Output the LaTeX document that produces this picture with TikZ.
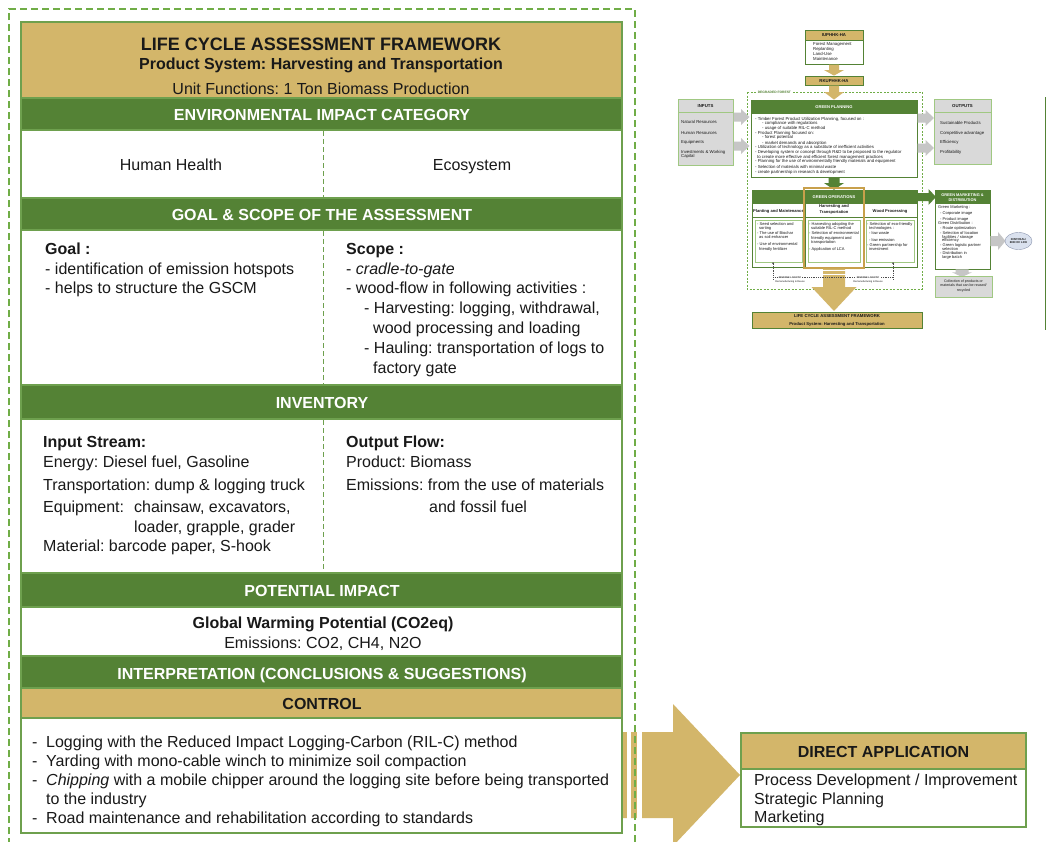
\documentclass[tikz,border=0pt]{standalone}
\usepackage{fontspec}
\setmainfont{Liberation Sans}
\usetikzlibrary{fit,arrows.meta,shapes.geometric}
\definecolor{gbar}{RGB}{84,130,53}
\definecolor{tanc}{RGB}{211,182,106}
\definecolor{tanline}{RGB}{200,160,75}
\definecolor{pbord}{RGB}{110,160,78}
\definecolor{odash}{RGB}{112,173,71}
\definecolor{txt}{RGB}{25,25,25}
\definecolor{lgray}{RGB}{217,217,217}
\definecolor{agray}{RGB}{198,198,198}
\definecolor{lgreen}{RGB}{160,200,130}
\definecolor{ellf}{RGB}{218,225,238}
\definecolor{elld}{RGB}{140,150,175}
\newcommand{\fsz}[1]{\fontsize{#1}{#1}\selectfont}
\newcommand{\vblock}[7]{\fill[#1] ({#2-#6},#3) -- ({#2+#6},#3) -- ({#2+#6},#4) -- ({#2+#7},#4) -- (#2,#5) -- ({#2-#7},#4) -- ({#2-#6},#4) -- cycle;}
\newcommand{\hblock}[7]{\fill[#1] (#3,{#2-#6}) -- (#4,{#2-#6}) -- (#4,{#2-#7}) -- (#5,#2) -- (#4,{#2+#7}) -- (#4,{#2+#6}) -- (#3,{#2+#6}) -- cycle;}
\frenchspacing
\begin{document}
\frenchspacing
\begin{tikzpicture}[x=1pt,y=-1pt,
 sec/.style={inner sep=0pt,outer sep=0pt,draw=pbord,line width=1.3pt},
 tansec/.style={sec,fill=tanc},
 grsec/.style={sec,fill=gbar},
 whsec/.style={sec,fill=white},
 bartxt/.style={font=\fsz{16}\bfseries,text=white,inner sep=0pt,anchor=base},
 cbold/.style={font=\fsz{16}\bfseries,text=txt,inner sep=0pt,anchor=base},
 creg/.style={font=\fsz{16},text=txt,inner sep=0pt,anchor=base},
 mtxt/.style={font=\fsz{16},text=txt,inner sep=0pt,anchor=base west},
 mbold/.style={font=\fsz{16}\bfseries,text=txt,inner sep=0pt,anchor=base west},
 divd/.style={draw=pbord,line width=1pt,dash pattern=on 5pt off 3pt},
 tb/.style={inner sep=0pt,outer sep=0pt,line width=0.5pt},
 ttxt/.style={font=\fsz{4.3},text=txt,inner sep=0pt,anchor=base west},
 tsm/.style={font=\fsz{4},text=txt,inner sep=0pt,anchor=base west},
 tsmc/.style={font=\fsz{3.6},text=txt,inner sep=0pt,anchor=base},
 tbold/.style={font=\fsz{4.3}\bfseries,text=txt,inner sep=0pt,anchor=base},
 twhite/.style={font=\fsz{4.1}\bfseries,text=white,inner sep=0pt,anchor=base},
 rlline/.style={draw=black!70,line width=0.35pt,dash pattern=on 1pt off 0.8pt},
]
\useasboundingbox (0,0) rectangle (1047,841);
\fill[white] (0,0) rectangle (1047,841);

% ---------- big arrow ----------
\fill[tanc] (620,732) -- (673,732) -- (673,704) -- (740,775) -- (673,846) -- (673,818) -- (620,818) -- cycle;
\fill[white] (626.7,730) rectangle (630.7,820);
\fill[white] (637.3,730) rectangle (641.7,820);

% ---------- outer dashed frame ----------
\coordinate (od1) at (9,845); \coordinate (od2) at (9,9);
\coordinate (od3) at (635,9); \coordinate (od4) at (635,845);
\draw[odash,line width=1.3pt,dash pattern=on 7pt off 4pt] (od1) -- (od2) -- (od3) -- (od4);

% ---------- sections ----------
\node[tansec,fit={(21,22) (622,98)}] (hdr) {};
\node[grsec,fit={(21,98) (622,130)}] (env) {};
\node[whsec,fit={(21,130) (622,198)}] (envw) {};
\node[grsec,fit={(21,198) (622,230)}] (gs) {};
\node[whsec,fit={(21,230) (622,385)}] (gsw) {};
\node[grsec,fit={(21,385) (622,419)}] (inv) {};
\node[whsec,fit={(21,419) (622,573)}] (invw) {};
\node[grsec,fit={(21,573) (622,607)}] (pot) {};
\node[whsec,fit={(21,607) (622,656)}] (potw) {};
\node[grsec,fit={(21,656) (622,688)}] (intp) {};
\node[tansec,fit={(21,688) (622,718)}] (ctl) {};
\node[whsec,fit={(21,718) (622,833)}] (ctlw) {};
\draw[pbord,line width=1.6pt] (hdr.north west) rectangle (ctlw.south east);

% dividers
\coordinate (dv1a) at (323,131); \coordinate (dv1b) at (323,197);
\coordinate (dv2a) at (323,231); \coordinate (dv2b) at (323,384);
\coordinate (dv3a) at (323,420); \coordinate (dv3b) at (323,572);
\draw[divd] (dv1a) -- (dv1b);
\draw[divd] (dv2a) -- (dv2b);
\draw[divd] (dv3a) -- (dv3b);

% header texts
\node[font=\fsz{18}\bfseries,text=txt,inner sep=0pt,anchor=base] (h1) at (321,50) {LIFE CYCLE ASSESSMENT FRAMEWORK};
\node[cbold] (h2) at (321,69.5) {Product System: Harvesting and Transportation};
\node[creg] (h3) at (321,94) {Unit Functions: 1 Ton Biomass Production};

\node[bartxt] (envt) at (322,120.5) {ENVIRONMENTAL IMPACT CATEGORY};
\node[creg] (hh) at (171,170.7) {Human Health};
\node[creg] (eco) at (472,170.7) {Ecosystem};

\node[bartxt] (gst) at (322,220.7) {GOAL \& SCOPE OF THE ASSESSMENT};
\node[mbold] (g0) at (45,254) {Goal :};
\node[mtxt] (g1) at (45,274) {- identification of emission hotspots};
\node[mtxt] (g2) at (45,293.8) {- helps to structure the GSCM};
\node[mbold] (s0) at (346,254) {Scope :};
\node[mtxt] (s1) at (346,274) {- \textit{cradle-to-gate}};
\node[mtxt] (s2) at (346,293.8) {- wood-flow in following activities :};
\node[mtxt] (s3) at (364,313.6) {- Harvesting: logging, withdrawal,};
\node[mtxt] (s4) at (373,333.4) {wood processing and loading};
\node[mtxt] (s5) at (364,353.2) {- Hauling: transportation of logs to};
\node[mtxt] (s6) at (373,373) {factory gate};

\node[bartxt] (invt) at (322,408.5) {INVENTORY};
\node[mbold] (i0) at (43,447.5) {Input Stream:};
\node[mtxt] (i1) at (43,467) {Energy: Diesel fuel, Gasoline};
\node[mtxt] (i2) at (43,490) {Transportation: dump \& logging truck};
\node[mtxt] (i3) at (43,512) {Equipment:};
\node[mtxt] (i3b) at (134,512) {chainsaw, excavators,};
\node[mtxt] (i4) at (134,532) {loader, grapple, grader};
\node[mtxt] (i5) at (43,551) {Material: barcode paper, S-hook};
\node[mbold] (o0) at (346,447.5) {Output Flow:};
\node[mtxt] (o1) at (346,467) {Product: Biomass};
\node[mtxt] (o2) at (346,490) {Emissions: from the use of materials};
\node[mtxt] (o3) at (429,512) {and fossil fuel};

\node[bartxt] (pott) at (322,596.5) {POTENTIAL IMPACT};
\node[cbold] (p1) at (323,628) {Global Warming Potential (CO2eq)};
\node[creg] (p2) at (323,648) {Emissions: CO2, CH4, N2O};

\node[bartxt] (intt) at (322,679) {INTERPRETATION (CONCLUSIONS \& SUGGESTIONS)};
\node[cbold] (ctlt) at (322,709) {CONTROL};

\node[mtxt] (cd1) at (32,747.5) {-};
\node[mtxt] (c1) at (46,747.5) {Logging with the Reduced Impact Logging-Carbon (RIL-C) method};
\node[mtxt] (cd2) at (32,766.5) {-};
\node[mtxt] (c2) at (46,766.5) {Yarding with mono-cable winch to minimize soil compaction};
\node[mtxt] (cd3) at (32,785) {-};
\node[mtxt] (c3) at (46,785) {\textit{Chipping} with a mobile chipper around the logging site before being transported};
\node[mtxt] (c4) at (46,804) {to the industry};
\node[mtxt] (cd5) at (32,823) {-};
\node[mtxt] (c5) at (46,823) {Road maintenance and rehabilitation according to standards};

% ---------- direct application ----------
\node[sec,fill=tanc,line width=1.5pt,fit={(741,733) (1026,769)}] (dah) {};
\node[sec,fill=white,line width=1.5pt,fit={(741,769) (1026,827)}] (dab) {};
\node[cbold] (dat) at (883.5,757.5) {DIRECT APPLICATION};
\node[mtxt] (da1) at (754,785) {Process Development / Improvement};
\node[mtxt] (da2) at (754,804) {Strategic Planning};
\node[mtxt] (da3) at (754,822.7) {Marketing};

% ================= thumbnail =================
% degraded forest frame
\draw[odash,line width=0.5pt,dash pattern=on 2pt off 1.5pt] (747,92) rectangle (922,289);
\node[font=\fsz{3.3}\bfseries,text=gbar,fill=white,inner sep=0.6pt,anchor=west] (dgf) at (757,92) {DEGRADED FOREST};

% IUPHHK-HA
\node[tb,fill=tanc,draw=gbar,fit={(805,30) (863,40)}] (iuh) {};
\node[tbold] (iuht) at (834,36.6) {IUPHHK-HA};
\node[tb,fill=white,draw=gbar,fit={(805,40) (863,64)}] (iub) {};
\node[ttxt] (iu1) at (813,45.3) {Forest Management};
\node[ttxt] (iu2) at (813,50.2) {Replanting};
\node[ttxt] (iu3) at (813,55.1) {Land-Use};
\node[ttxt] (iu4) at (813,60) {Maintenance};
\vblock{tanc}{834}{64.6}{70}{75.6}{5}{10}
\node[tb,fill=tanc,draw=gbar,fit={(805,76) (863,85)}] (rku) {};
\node[tbold] (rkut) at (834,82) {RKUPHHK-HA};
\vblock{tanc}{834}{85.6}{92}{99.6}{5}{10}

% INPUTS
\node[tb,fill=lgray,draw=lgreen,line width=0.7pt,fit={(678,99) (733,165)}] (inp) {};
\draw[lgreen,line width=0.5pt] ([yshift=-13pt]inp.north west) -- ([yshift=-13pt]inp.north east);
\node[tbold] (inpt) at (705.5,107.6) {INPUTS};
\node[ttxt] (in1) at (681,123.7) {Natural Resources};
\node[ttxt] (in2) at (681,134.1) {Human Resources};
\node[ttxt] (in3) at (681,143.7) {Equipments};
\node[ttxt] (in4) at (681,153.1) {Investments \& Working};
\node[ttxt] (in5) at (681,157.6) {Capital};
\hblock{agray}{117}{733.6}{741}{749.5}{4.5}{8}
\hblock{agray}{146}{733.6}{741}{749.5}{4.5}{8}

% GREEN PLANNING
\node[tb,fill=white,draw=gbar,line width=0.7pt,fit={(751,100) (917,177)}] (gp) {};
\node[tb,fill=gbar,draw=gbar,fit={(751,100) (917,113)}] (gph) {};
\node[twhite] (gpht) at (834,108.3) {GREEN PLANNING};
\node[ttxt] (gp1) at (755,120.3) {- Timber Forest Product Utilization Planning, focused on :};
\node[ttxt] (gp2) at (762,124.8) {- compliance with regulations};
\node[ttxt] (gp3) at (762,129.3) {- usage of suitable RIL-C method};
\node[ttxt] (gp4) at (755,134.3) {- Product Planning focused on:};
\node[ttxt] (gp5) at (762,138.8) {- forest potential};
\node[ttxt] (gp6) at (762,144.3) {- market demands and absorption};
\node[ttxt] (gp7) at (755,148.8) {- Utilization of technology as a substitute of inefficient activities};
\node[ttxt] (gp8) at (755,153.3) {- Developing system or concept through R\&D to be proposed to the regulator};
\node[ttxt] (gp9) at (757,158.3) {to create more effective and efficient forest management practices};
\node[ttxt] (gp10) at (755,162.8) {- Planning for the use of environmentally friendly materials and equipment};
\node[ttxt] (gp11) at (755,168.3) {- Selection of materials with minimal waste};
\node[ttxt] (gp12) at (755,173.8) {- create partnership in research \& development};

% OUTPUTS
\node[tb,fill=lgray,draw=lgreen,line width=0.7pt,fit={(934,99) (991,164)}] (outp) {};
\draw[lgreen,line width=0.5pt] ([yshift=-13pt]outp.north west) -- ([yshift=-13pt]outp.north east);
\node[tbold] (outt) at (962.5,107.6) {OUTPUTS};
\node[ttxt] (ou1) at (940,124.3) {Sustainable Products};
\node[ttxt] (ou2) at (940,134.3) {Competitive advantage};
\node[ttxt] (ou3) at (940,143.3) {Efficiency};
\node[ttxt] (ou4) at (940,153.3) {Profitability};
\hblock{agray}{118}{917.6}{925.5}{934}{4.5}{8}
\hblock{agray}{148}{917.6}{925.5}{934}{4.5}{8}

% right vertical line
\coordinate (vl1) at (1045,97); \coordinate (vl2) at (1045,330);
\draw[gbar,line width=1pt] (vl1) -- (vl2);

% green arrow GP -> GO
\vblock{gbar}{834}{177.4}{183}{189.8}{5.5}{10}

% GREEN OPERATIONS
\node[tb,fill=white,draw=gbar,line width=0.7pt,fit={(752,190) (917,267)}] (go) {};
\node[tb,fill=gbar,draw=gbar,fit={(752,190) (917,203)}] (goh) {};
\node[twhite] (goht) at (834,198.5) {GREEN OPERATIONS};
\draw[gbar,line width=0.5pt] (752,217) -- (917,217);
\draw[gbar,line width=0.5pt] (805,203) -- (805,267);
\draw[gbar,line width=0.5pt] (863,203) -- (863,267);
\node[font=\fsz{4.1}\bfseries,text=txt,inner sep=0pt,anchor=base] (go1t) at (778.5,212.3) {Planting and Maintenance};
\node[font=\fsz{4.1}\bfseries,text=txt,inner sep=0pt,anchor=base] (go2t) at (834,207.6) {Harvesting and};
\node[font=\fsz{4.1}\bfseries,text=txt,inner sep=0pt,anchor=base] (go2u) at (834,213.6) {Transportation};
\node[font=\fsz{4.1}\bfseries,text=txt,inner sep=0pt,anchor=base] (go3t) at (890,212.3) {Wood Processing};
\node[tb,draw=lgreen,line width=0.4pt,fit={(755,220) (802,262)}] (c1box) {};
\node[tb,draw=lgreen,line width=0.4pt,fit={(808,220) (860,262)}] (c2box) {};
\node[tb,draw=lgreen,line width=0.4pt,fit={(866,220) (914,262)}] (c3box) {};
\node[tsm] (a1) at (757,225.7) {- Seed selection and};
\node[tsm] (a2) at (759,229.7) {sorting};
\node[tsm] (a3) at (757,234.1) {- The use of Biochar};
\node[tsm] (a4) at (759,238.1) {as soil enhancer};
\node[tsm] (a5) at (757,245.4) {- Use of environmental};
\node[tsm] (a6) at (759,250.7) {friendly fertilizer};
\node[tsm] (b1) at (809,225.7) {- Harvesting adopting the};
\node[tsm] (b2) at (811,229.7) {suitable RIL-C method};
\node[tsm] (b3) at (809,234.7) {- Selection of environmental};
\node[tsm] (b4) at (811,239.1) {friendly equipment and};
\node[tsm] (b5) at (811,243.1) {transportation};
\node[tsm] (b6) at (809,250.7) {- Application of LCA};
\node[tsm] (e1) at (867,225.7) {- Selection of eco-friendly};
\node[tsm] (e2) at (869,229.7) {technologies :};
\node[tsm] (e3) at (869,234.7) {- low waste};
\node[tsm] (e4) at (869,241.4) {- low emission};
\node[tsm] (e5) at (867,246.4) {- Green partnership for};
\node[tsm] (e6) at (869,250.7) {investment};
\node[tb,draw=tanline,line width=1.1pt,fit={(804,188) (864,268)}] (hl) {};

% tan arrow down to LCA
\vblock{tanc}{834}{268.6}{287}{311}{11}{22.5}
\fill[white] (822,270.4) rectangle (846,271.4);
\fill[white] (822,273.6) rectangle (846,274.6);

% reverse logistics
\coordinate (rla) at (773,279.5); \coordinate (rlb) at (893,279.5);
\coordinate (rlm1) at (773,277.5); \coordinate (rlm2) at (893,277.5);
\draw[rlline] (rlm1) -- (rlm2);
\draw[rlline,-{Stealth[length=2pt,width=2pt]}] (rla) -- (rla |- c1box.south);
\draw[rlline,-{Stealth[length=2pt,width=2pt]}] (rlb) -- (rlb |- c3box.south);
\node[font=\fsz{2.3}\bfseries,text=txt,fill=white,inner sep=0.4pt,anchor=base] (rl1t) at (790,278.2) {REVERSE LOGISTIC};
\node[font=\fsz{2.5},text=txt,inner sep=0.3pt,anchor=base] (rl1s) at (790,282.4) {Remanufacturing \& Reuse};
\node[font=\fsz{2.3}\bfseries,text=txt,fill=white,inner sep=0.4pt,anchor=base] (rl2t) at (868,278.2) {REVERSE LOGISTIC};
\node[font=\fsz{2.5},text=txt,inner sep=0.3pt,anchor=base] (rl2s) at (868,282.4) {Remanufacturing \& Reuse};

% LCA box
\node[tb,fill=tanc,draw=gbar,fit={(752,312) (922,328)}] (lca) {};
\node[tbold] (lca1) at (837,317.6) {LIFE CYCLE ASSESSMENT FRAMEWORK};
\node[font=\fsz{4.2}\bfseries,text=txt,inner sep=0pt,anchor=base] (lca2) at (837,325.4) {Product System: Harvesting and Transportation};

% green arrow GO -> GMD
\hblock{gbar}{197}{917.4}{928.5}{936}{4}{8}

% GREEN MARKETING & DISTRIBUTION
\node[tb,fill=white,draw=gbar,line width=0.7pt,fit={(935,190) (990,269)}] (gmd) {};
\node[tb,fill=gbar,draw=gbar,fit={(935,190) (990,203)}] (gmdh) {};
\node[font=\fsz{3.9}\bfseries,text=white,inner sep=0pt,anchor=base] (gmdt1) at (962.5,196.4) {GREEN MARKETING \&};
\node[font=\fsz{3.9}\bfseries,text=white,inner sep=0pt,anchor=base] (gmdt2) at (962.5,201.6) {DISTRIBUTION};
\node[tsm] (m1) at (938,208.5) {Green Marketing :};
\node[tsm] (m2) at (940,214.6) {- Corporate image};
\node[tsm] (m3) at (940,220.6) {- Product image};
\node[tsm] (m4) at (938,224.6) {Green Distribution :};
\node[tsm] (m5) at (940,229.6) {- Route optimization};
\node[tsm] (m6) at (940,234.6) {- Selection of location};
\node[tsm] (m7) at (942,238.1) {facilities / storage};
\node[tsm] (m8) at (942,241.4) {efficiency};
\node[tsm] (m9) at (940,246.6) {- Green logistic partner};
\node[tsm] (m10) at (942,250.1) {selection};
\node[tsm] (m11) at (940,254.6) {- Distribution in};
\node[tsm] (m12) at (942,258.6) {large batch};

% disposal
\hblock{agray}{241}{990.4}{998}{1005.5}{5}{9}
\node[ellipse,fill=ellf,draw=elld,line width=0.4pt,minimum width=27pt,minimum height=17pt,inner sep=0pt,font=\fsz{2.8}\bfseries,text=txt,align=center] (disp) at (1018.5,241) {DISPOSAL/\\END OF LIFE};

% collection
\vblock{agray}{962}{269.4}{272.3}{277}{6.5}{10}
\node[tb,fill=lgray,draw=lgreen,line width=0.6pt,fit={(935,276.5) (992,297)}] (coll) {};
\node[tsmc] (co1) at (963.5,282.2) {Collection of products or};
\node[tsmc] (co2) at (963.5,286.7) {materials that can be reused/};
\node[tsmc] (co3) at (963.5,291.2) {recycled};
\end{tikzpicture}
\end{document}
